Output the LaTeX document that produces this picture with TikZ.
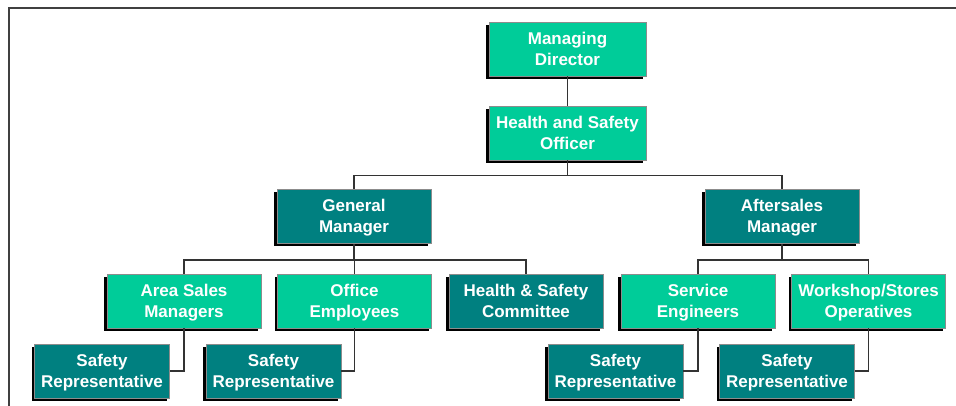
\documentclass[tikz,border=0pt]{standalone}
\usepackage{fontspec}
\setmainfont{Liberation Sans}
\usetikzlibrary{shadows}
\definecolor{lightg}{HTML}{00CC99}
\definecolor{darkt}{HTML}{008080}
\definecolor{edgegray}{HTML}{8C8C8C}
\definecolor{linec}{HTML}{333333}
\newcommand{\bs}{\rule[-3pt]{0pt}{18pt}}
\tikzset{
  orgbox/.style={rectangle, draw=edgegray, line width=0.9pt, text=white,
    font=\fontsize{17}{21}\selectfont\bfseries, align=center, inner sep=0pt,
    minimum height=54pt,
    drop shadow={shadow xshift=-3pt, shadow yshift=-3pt, fill=black, opacity=1}},
  lightbox/.style={orgbox, fill=lightg, minimum width=156pt},
  darkbox/.style={orgbox, fill=darkt, minimum width=154pt},
  repbox/.style={orgbox, fill=darkt, minimum width=135pt},
  conn/.style={draw=linec, line width=1.2pt}
}
\begin{document}
\begin{tikzpicture}[x=1pt,y=-1pt]
\useasboundingbox (0,0) rectangle (956,406);
\draw[line width=2pt, black!75] (8.5,406) -- (8.5,8.5) -- (956,8.5);

\node[lightbox, minimum width=157pt] (md) at (567.5,49) {\bs Managing\\\bs Director};
\node[lightbox, minimum width=157pt] (hso) at (567.5,133) {\bs Health and Safety\\\bs Officer};
\node[darkbox] (gm) at (354,216.5) {\bs General\\\bs Manager};
\node[darkbox] (am) at (782,216.5) {\bs Aftersales\\\bs Manager};
\node[lightbox, minimum width=154pt] (asm) at (184,301) {\bs Area Sales\\\bs Managers};
\node[lightbox, minimum width=154pt] (oe) at (354.5,301) {\bs Office\\\bs Employees};
\node[darkbox] (hsc) at (526,301) {\bs Health \& Safety\\\bs Committee};
\node[lightbox, minimum width=154pt] (se) at (698,301) {\bs Service\\\bs Engineers};
\node[lightbox, minimum width=154pt] (ws) at (868.5,301) {\bs Workshop/Stores\\\bs Operatives};
\node[repbox] (sr1) at (102,371) {\bs Safety\\\bs Representative};
\node[repbox] (sr2) at (273.5,371) {\bs Safety\\\bs Representative};
\node[repbox] (sr3) at (615.5,371) {\bs Safety\\\bs Representative};
\node[repbox] (sr4) at (787,371) {\bs Safety\\\bs Representative};

\coordinate (b0) at (567.5,175.5);
\coordinate (b1) at (354,260);
\coordinate (b2) at (782,260);

\draw[conn] (md.south) -- (hso.north);
\draw[conn] (hso.south) -- (b0);
\draw[conn] (b0) -| (gm.north);
\draw[conn] (b0) -| (am.north);
\draw[conn] (gm.south) -- (b1);
\draw[conn] (b1) -| (asm.north);
\draw[conn] (b1) -| (oe.north);
\draw[conn] (b1) -| (hsc.north);
\draw[conn] (am.south) -- (b2);
\draw[conn] (b2) -| (se.north);
\draw[conn] (b2) -| (ws.north);
\draw[conn] (asm.south) |- (sr1.east);
\draw[conn] (oe.south) |- (sr2.east);
\draw[conn] (se.south) |- (sr3.east);
\draw[conn] (ws.south) |- (sr4.east);
\end{tikzpicture}
\end{document}
